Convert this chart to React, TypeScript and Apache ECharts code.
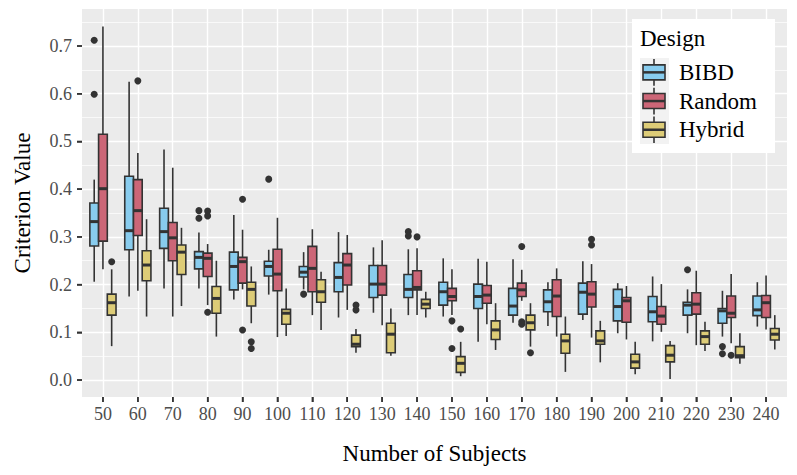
import React, { useEffect, useRef } from "react";
import * as echarts from "echarts";

// ---- data ----
const CATEGORIES = ["50", "60", "70", "80", "90", "100", "110", "120", "130", "140", "150", "160", "170", "180", "190", "200", "210", "220", "230", "240"];
const GROUPS = ["BIBD", "Random", "Hybrid"];
const COLORS = ["#88CCEE", "#CC6677", "#DDCC77"];
const Y_TICKS = [0, 0.1, 0.2, 0.3, 0.4, 0.5, 0.6, 0.7];

// each entry: [lower whisker, Q1, median, Q3, upper whisker]
const BIBD_STATS = [
  [0.206, 0.281, 0.332, 0.371, 0.420],
  [0.175, 0.273, 0.313, 0.427, 0.625],
  [0.192, 0.276, 0.311, 0.360, 0.483],
  [0.192, 0.233, 0.257, 0.269, 0.309],
  [0.169, 0.189, 0.238, 0.268, 0.346],
  [0.179, 0.218, 0.238, 0.249, 0.273],
  [0.190, 0.216, 0.226, 0.238, 0.268],
  [0.131, 0.185, 0.215, 0.246, 0.310],
  [0.141, 0.173, 0.201, 0.240, 0.278],
  [0.136, 0.173, 0.190, 0.221, 0.274],
  [0.133, 0.157, 0.185, 0.205, 0.255],
  [0.080, 0.150, 0.175, 0.201, 0.254],
  [0.120, 0.136, 0.155, 0.192, 0.253],
  [0.113, 0.143, 0.164, 0.189, 0.205],
  [0.126, 0.138, 0.184, 0.203, 0.249],
  [0.098, 0.124, 0.154, 0.190, 0.203],
  [0.081, 0.122, 0.143, 0.175, 0.217],
  [0.098, 0.136, 0.157, 0.163, 0.190],
  [0.091, 0.119, 0.145, 0.150, 0.187],
  [0.112, 0.135, 0.147, 0.176, 0.205],
];
const RANDOM_STATS = [
  [0.232, 0.291, 0.401, 0.515, 0.741],
  [0.187, 0.303, 0.355, 0.420, 0.476],
  [0.133, 0.250, 0.298, 0.330, 0.445],
  [0.157, 0.217, 0.255, 0.266, 0.285],
  [0.190, 0.203, 0.248, 0.257, 0.315],
  [0.090, 0.187, 0.222, 0.274, 0.340],
  [0.136, 0.185, 0.234, 0.280, 0.316],
  [0.147, 0.199, 0.241, 0.265, 0.304],
  [0.115, 0.178, 0.201, 0.240, 0.293],
  [0.136, 0.189, 0.194, 0.229, 0.276],
  [0.136, 0.166, 0.175, 0.192, 0.232],
  [0.117, 0.161, 0.178, 0.198, 0.248],
  [0.166, 0.175, 0.189, 0.203, 0.231],
  [0.091, 0.133, 0.176, 0.210, 0.234],
  [0.089, 0.153, 0.180, 0.206, 0.243],
  [0.085, 0.121, 0.166, 0.173, 0.197],
  [0.101, 0.117, 0.134, 0.154, 0.201],
  [0.073, 0.138, 0.159, 0.183, 0.229],
  [0.077, 0.131, 0.140, 0.176, 0.222],
  [0.106, 0.131, 0.162, 0.177, 0.219],
];
const HYBRID_STATS = [
  [0.071, 0.136, 0.162, 0.180, 0.232],
  [0.133, 0.208, 0.241, 0.271, 0.337],
  [0.155, 0.221, 0.268, 0.283, 0.319],
  [0.091, 0.140, 0.171, 0.196, 0.250],
  [0.119, 0.155, 0.190, 0.205, 0.238],
  [0.092, 0.117, 0.140, 0.148, 0.192],
  [0.105, 0.163, 0.185, 0.210, 0.227],
  [0.057, 0.070, 0.075, 0.094, 0.107],
  [0.051, 0.057, 0.096, 0.119, 0.150],
  [0.131, 0.150, 0.159, 0.169, 0.185],
  [0.008, 0.016, 0.035, 0.049, 0.080],
  [0.063, 0.085, 0.105, 0.124, 0.161],
  [0.070, 0.105, 0.120, 0.136, 0.161],
  [0.017, 0.056, 0.082, 0.096, 0.133],
  [0.037, 0.075, 0.082, 0.103, 0.124],
  [0.012, 0.025, 0.038, 0.054, 0.080],
  [0.002, 0.038, 0.052, 0.072, 0.082],
  [0.061, 0.075, 0.091, 0.103, 0.122],
  [0.034, 0.047, 0.051, 0.070, 0.098],
  [0.064, 0.084, 0.096, 0.108, 0.136],
];

// outliers: [category label, value]
const BIBD_OUTLIERS = [["50", 0.712], ["50", 0.599], ["80", 0.355], ["80", 0.339], ["100", 0.421], ["110", 0.180], ["140", 0.311], ["140", 0.302], ["220", 0.231], ["230", 0.070], ["230", 0.055]];
const RANDOM_OUTLIERS = [["60", 0.627], ["80", 0.354], ["80", 0.344], ["80", 0.142], ["90", 0.379], ["90", 0.105], ["140", 0.300], ["150", 0.124], ["150", 0.066], ["170", 0.280], ["170", 0.122], ["170", 0.117], ["190", 0.295], ["190", 0.283], ["230", 0.052]];
const HYBRID_OUTLIERS = [["50", 0.248], ["90", 0.080], ["90", 0.066], ["120", 0.157], ["120", 0.147], ["150", 0.107], ["170", 0.057]];

const ALL_STATS = [BIBD_STATS, RANDOM_STATS, HYBRID_STATS];
const ALL_OUTLIERS = [BIBD_OUTLIERS, RANDOM_OUTLIERS, HYBRID_OUTLIERS];

// ---- layout constants ----
const X_MIN = -0.6;
const X_MAX = 19.6;
const Y_MIN = -0.0356;
const Y_MAX = 0.7776;
const DODGE = [-0.25, 0, 0.25];
const HALF = 0.125;
const FONT = "Liberation Serif";
const EDGE = "#333333";
const TICK_LEN = 5;

export default function App() {
  const ref = useRef<HTMLDivElement>(null);
  useEffect(() => {
    if (!ref.current) return;
    const chart = echarts.init(ref.current, null, { renderer: "svg" });
    const idx = CATEGORIES.map((_, i) => i);

    const boxSeries = GROUPS.map((name, g) => ({
      type: "custom",
      name,
      z: 3,
      data: ALL_STATS[g].map((s, i) => [i, ...s]),
      encode: { x: 0, y: [1, 2, 3, 4, 5] },
      renderItem: (params: any, api: any) => {
        const x = api.value(0) + DODGE[g];
        const lw = api.value(1), q1 = api.value(2), med = api.value(3), q3 = api.value(4), uw = api.value(5);
        const pLo = api.coord([x - HALF, q1]);
        const pHi = api.coord([x + HALF, q3]);
        const pW1 = api.coord([x, lw]);
        const pW2 = api.coord([x, uw]);
        const pM = api.coord([x, med]);
        return {
          type: "group",
          children: [
            { type: "line", shape: { x1: pW1[0], y1: pW1[1], x2: pW1[0], y2: pLo[1] }, style: { stroke: EDGE, lineWidth: 1.6 } },
            { type: "line", shape: { x1: pW2[0], y1: pHi[1], x2: pW2[0], y2: pW2[1] }, style: { stroke: EDGE, lineWidth: 1.6 } },
            { type: "rect", shape: { x: pLo[0], y: pHi[1], width: pHi[0] - pLo[0], height: pLo[1] - pHi[1] }, style: { fill: COLORS[g], stroke: EDGE, lineWidth: 1.6 } },
            { type: "line", shape: { x1: pLo[0], y1: pM[1], x2: pHi[0], y2: pM[1] }, style: { stroke: EDGE, lineWidth: 3 } },
          ],
        };
      },
    }));

    const outlierSeries = GROUPS.map((name, g) => ({
      type: "scatter",
      name: name + " outliers",
      z: 4,
      symbol: "circle",
      symbolSize: 7,
      itemStyle: { color: EDGE, opacity: 1 },
      data: ALL_OUTLIERS[g].map(([c, v]) => [CATEGORIES.indexOf(c as string) + DODGE[g], v]),
    }));

    const keyTop = 58;
    const keyStep = 28.7;
    const Z = 100;
    const textStyle = { font: `23px ${FONT}`, fontSize: 23, fontFamily: FONT, fill: "#000000", verticalAlign: "middle", align: "left" };
    const legendElements: any[] = [
      { type: "rect", z: Z, shape: { x: 632, y: 19, width: 143, height: 134 }, style: { fill: "#FFFFFF" } },
      { type: "text", z: Z + 1, x: 640, y: 38, style: { ...textStyle, text: "Design" } },
      { type: "rect", z: Z + 1, shape: { x: 640, y: keyTop, width: 29, height: keyStep * 3 }, style: { fill: "#F2F2F2" } },
    ];
    GROUPS.forEach((name, g) => {
      const cy = keyTop + keyStep * g + keyStep / 2;
      legendElements.push(
        { type: "line", z: Z + 2, shape: { x1: 654, y1: cy - keyStep / 2 + 1, x2: 654, y2: cy + keyStep / 2 - 1 }, style: { stroke: EDGE, lineWidth: 1.6 } },
        { type: "rect", z: Z + 3, shape: { x: 643, y: cy - 7.5, width: 22, height: 15 }, style: { fill: COLORS[g], stroke: EDGE, lineWidth: 1.6 } },
        { type: "line", z: Z + 4, shape: { x1: 643, y1: cy, x2: 665, y2: cy }, style: { stroke: EDGE, lineWidth: 2.5 } },
        { type: "text", z: Z + 1, x: 679, y: cy, style: { ...textStyle, text: name } }
      );
    });

    const tickStyle = { color: EDGE, width: 1.5 };

    chart.setOption({
      animation: false,
      backgroundColor: "#FFFFFF",
      textStyle: { fontFamily: FONT },
      grid: {
        left: 82, right: 10, top: 9, bottom: 78,
        show: true, backgroundColor: "#EBEBEB", borderWidth: 0,
        containLabel: false,
      },
      xAxis: {
        type: "value",
        min: X_MIN,
        max: X_MAX,
        name: "Number of Subjects",
        nameLocation: "middle",
        nameGap: 45,
        nameTextStyle: { fontSize: 23, color: "#000000", fontFamily: FONT },
        axisLine: { show: false, onZero: false },
        axisTick: { show: true, inside: false, customValues: idx, length: TICK_LEN, lineStyle: tickStyle },
        axisLabel: {
          customValues: idx,
          formatter: (v: number) => CATEGORIES[Math.round(v)] ?? "",
          color: "#4D4D4D", fontSize: 18, fontFamily: FONT, margin: 8,
        },
        splitLine: { show: true, lineStyle: { color: "#FFFFFF", width: 1.4 } },
        minorSplitLine: { show: false },
      },
      yAxis: {
        type: "value",
        min: Y_MIN,
        max: Y_MAX,
        splitNumber: 8,
        name: "Criterion Value",
        nameLocation: "middle",
        nameGap: 48,
        nameTextStyle: { fontSize: 23, color: "#000000", fontFamily: FONT },
        axisLine: { show: false, onZero: false },
        axisTick: { show: true, inside: false, customValues: Y_TICKS, length: TICK_LEN, lineStyle: tickStyle },
        axisLabel: {
          customValues: Y_TICKS,
          formatter: (v: number) => v.toFixed(1),
          color: "#4D4D4D", fontSize: 18, fontFamily: FONT, margin: 10,
        },
        splitLine: { show: true, lineStyle: { color: "#FFFFFF", width: 1.4 } },
        minorTick: { show: false, splitNumber: 2 },
        minorSplitLine: { show: true, lineStyle: { color: "#FFFFFF", width: 0.7 } },
      },
      series: [...boxSeries, ...outlierSeries],
      graphic: { elements: legendElements },
    });

    // extra tick marks at the same positions, from the series' own coordinate system
    const tickElements: any[] = [];
    const toPx = (pt: number[]) => {
      let p: any = null;
      try { p = chart.convertToPixel({ seriesIndex: 3 }, pt); } catch (e) { p = null; }
      if (!(Array.isArray(p) && isFinite(p[0]) && isFinite(p[1]))) {
        try {
          const px = chart.convertToPixel({ xAxisIndex: 0 }, pt[0]) as any;
          const py = chart.convertToPixel({ yAxisIndex: 0 }, pt[1]) as any;
          p = [px, py];
        } catch (e) { p = null; }
      }
      return Array.isArray(p) && isFinite(p[0]) && isFinite(p[1]) ? p : null;
    };
    idx.forEach((i) => {
      const p = toPx([i, Y_MIN]);
      if (p) tickElements.push({ type: "rect", z: Z, shape: { x: p[0] - 0.75, y: p[1], width: 1.5, height: TICK_LEN }, style: { fill: EDGE } });
    });
    Y_TICKS.forEach((v) => {
      const p = toPx([X_MIN, v]);
      if (p) tickElements.push({ type: "rect", z: Z, shape: { x: p[0] - TICK_LEN, y: p[1] - 0.75, width: TICK_LEN, height: 1.5 }, style: { fill: EDGE } });
    });
    if (tickElements.length) {
      chart.setOption({ graphic: { elements: [...legendElements, ...tickElements] } }, { replaceMerge: ["graphic"] });
    }

    return () => chart.dispose();
  }, []);
  return <div ref={ref} style={{ position: "fixed", left: 0, top: 0, width: 797, height: 475 }} />;
}
